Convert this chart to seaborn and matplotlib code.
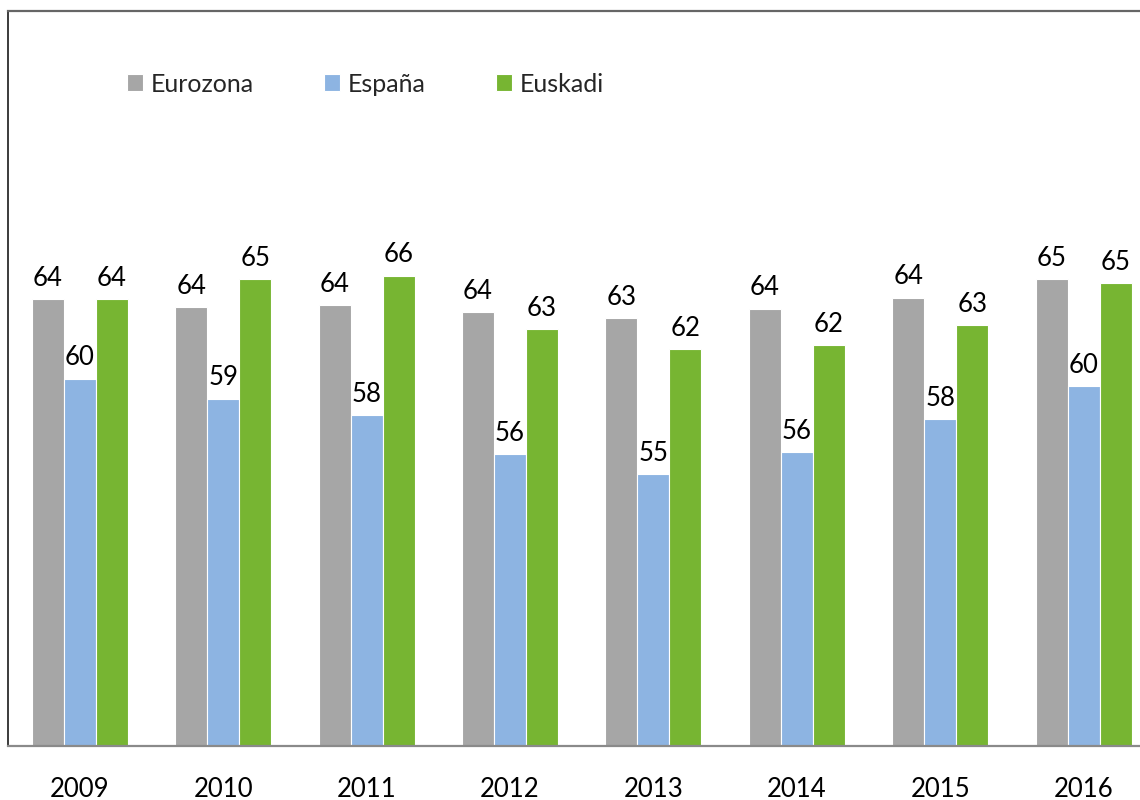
import seaborn as sns
import matplotlib.pyplot as plt
import pandas as pd

years = ["2009", "2010", "2011", "2012", "2013", "2014", "2015", "2016"]
series = ["Eurozona", "España", "Euskadi"]
eurozona = [64.3, 63.9, 64.0, 63.6, 63.3, 63.8, 64.4, 65.4]
espana = [60.0, 58.9, 58.0, 55.9, 54.8, 56.0, 57.8, 59.6]
euskadi = [64.3, 65.4, 65.6, 62.7, 61.6, 61.8, 62.9, 65.2]
colors = ["#A6A6A6", "#8DB4E2", "#77B532"]

df = pd.DataFrame({"Año": years, "Eurozona": eurozona, "España": espana, "Euskadi": euskadi})
df_long = df.melt(id_vars="Año", var_name="Serie", value_name="Valor")

sns.set_style("white")
plt.rcParams["font.family"] = ["Lato", "DejaVu Sans"]

fig = plt.figure(figsize=(11.4, 8), dpi=100)
ax = fig.add_axes([8 / 1140, 54 / 800, 1147.4 / 1140, 735 / 800])

sns.barplot(
    data=df_long,
    x="Año",
    y="Valor",
    hue="Serie",
    hue_order=series,
    palette=colors,
    saturation=1,
    width=0.67,
    errorbar=None,
    edgecolor="white",
    linewidth=0.8,
    ax=ax
)

ax.set_ylim(40, 80)
ax.set_xlim(-0.5, 7.5)
ax.set_xlabel("")
ax.set_ylabel("")
ax.set_yticks([])
ax.tick_params(axis="x", length=0, pad=22, labelsize=18.5, colors="black")

for container in ax.containers:
    ax.bar_label(container, fmt="%.0f", padding=6, fontsize=18.5, color="black")

leg = ax.get_legend()
handles = leg.legend_handles
labels = [t.get_text() for t in leg.get_texts()]
leg.remove()

fig.legend(
    handles, labels,
    loc="center left",
    bbox_to_anchor=(127 / 1140, 1 - 84 / 800),
    ncol=3,
    frameon=False,
    fontsize=18,
    handlelength=0.64,
    handleheight=0.64,
    handletextpad=0.32,
    columnspacing=2.8,
    borderpad=0,
    borderaxespad=0,
)

ax.spines["right"].set_visible(False)
ax.spines["top"].set_color("#666666")
ax.spines["top"].set_linewidth(1.6)
ax.spines["left"].set_color("#1a1a1a")
ax.spines["left"].set_linewidth(1.2)
ax.spines["bottom"].set_color("#8a8a8a")
ax.spines["bottom"].set_linewidth(1.6)

plt.savefig("out.png", dpi=100)
